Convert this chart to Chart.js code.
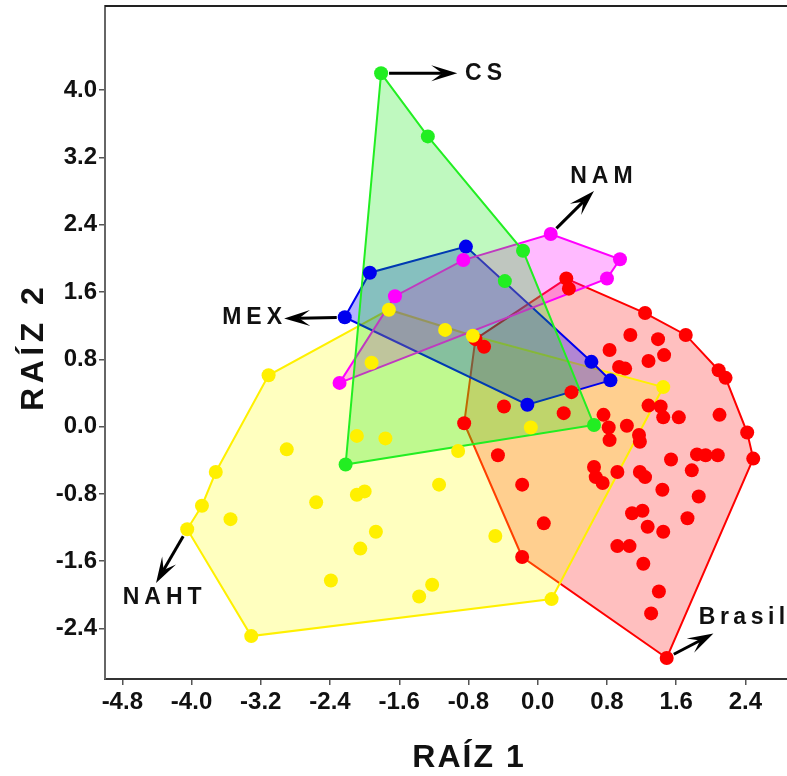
<!DOCTYPE html>
<html lang="es">
<head>
<meta charset="UTF-8">
<title>RAÍZ 1 / RAÍZ 2</title>
<script src="https://cdn.jsdelivr.net/npm/chart.js"></script>
<style>
  html, body { margin: 0; padding: 0; background: #fff; }
  #wrap { width: 787px; height: 776px; }
</style>
</head>
<body>
<div id="wrap"><canvas id="chart" width="787" height="776"></canvas></div>
<script>
const xTicks = [-4.8, -4.0, -3.2, -2.4, -1.6, -0.8, 0.0, 0.8, 1.6, 2.4];
const yTicks = [-2.4, -1.6, -0.8, 0.0, 0.8, 1.6, 2.4, 3.2, 4.0];

// hull vertices (in order) and the points inside, per group
const brasilHull = [[1.49,-2.75],[-0.18,-1.55],[-0.85,0.04],[-0.72,1.04],[0.33,1.76],[1.24,1.35],
  [1.71,1.09],[2.09,0.67],[2.17,0.58],[2.42,-0.07],[2.49,-0.38]];
const brasilInner = [[0.36,1.64],[1.07,1.09],[1.39,1.04],[0.83,0.91],[1.46,0.85],[1.28,0.78],[0.94,0.71],
  [1.01,0.69],[1.28,0.25],[1.42,0.24],[1.45,0.11],[1.63,0.11],[2.10,0.14],[0.76,0.14],[0.82,-0.01],
  [1.03,0.01],[1.17,-0.10],[1.18,-0.18],[0.83,-0.16],[1.54,-0.39],[1.84,-0.33],[1.94,-0.34],[2.08,-0.34],
  [1.78,-0.52],[0.65,-0.48],[0.67,-0.60],[0.75,-0.67],[0.92,-0.54],[1.18,-0.54],[1.24,-0.60],[1.44,-0.75],
  [1.86,-0.83],[1.09,-1.03],[1.21,-1.00],[1.73,-1.09],[-0.39,0.24],[0.30,0.16],[-0.46,-0.34],[-0.18,-0.69],
  [0.07,-1.15],[1.27,-1.19],[1.45,-1.25],[0.92,-1.42],[1.06,-1.42],[1.22,-1.63],[1.40,-1.96],[1.31,-2.22],
  [-0.62,0.95],[0.39,0.41]];

const nahtHull = [[-4.05,-1.22],[-3.88,-0.94],[-3.72,-0.54],[-3.11,0.61],[-1.72,1.39],[-0.75,1.08],
  [1.45,0.47],[0.16,-2.05],[-3.31,-2.49]];
const nahtInner = [[-1.07,1.15],[-1.92,0.76],[-2.09,-0.11],[-1.76,-0.14],[-2.90,-0.27],[-0.92,-0.29],
  [-0.08,-0.01],[-1.14,-0.69],[-2.56,-0.90],[-2.09,-0.81],[-2.00,-0.77],[-3.55,-1.10],[-1.87,-1.25],
  [-2.05,-1.45],[-2.39,-1.83],[-1.37,-2.02],[-1.22,-1.88],[-0.49,-1.30]];

const csHull = [[-1.81,4.20],[-1.27,3.45],[-0.17,2.09],[0.65,0.02],[-2.22,-0.45]];
const csInner = [[-0.38,1.73]];

const namHull = [[-2.29,0.52],[-1.65,1.55],[-0.86,1.98],[0.15,2.29],[0.95,1.99],[0.80,1.76]];
const namInner = [];

const mexHull = [[-2.23,1.30],[-1.94,1.83],[-0.83,2.14],[0.62,0.77],[0.84,0.55],[-0.12,0.26]];
const mexInner = [];

// group labels: arrow from a point to a tip, text next to it
const labels = [
  { text: 'CS',     from: [-1.81, 4.20], to: [-0.93, 4.20], at: [-0.84, 4.20], align: 'left' },
  { text: 'NAM',    from: [0.15, 2.29],  to: [0.65, 2.80],  at: [0.735, 2.975], align: 'center' },
  { text: 'MEX',    from: [-2.23, 1.30], to: [-2.93, 1.285], at: [-3.30, 1.29], align: 'center' },
  { text: 'NAHT',   from: [-4.05, -1.22], to: [-4.41, -1.86], at: [-4.34, -2.03], align: 'center' },
  { text: 'Brasil', from: [1.49, -2.75], to: [2.03, -2.46], at: [2.36, -2.27], align: 'center' }
];

const toXY = arr => arr.map(p => ({ x: p[0], y: p[1] }));

const groups = [
  // drawn bottom to top
  { name: 'Brasil', hull: brasilHull, inner: brasilInner, color: '#ff0000', fill: 'rgba(255,0,0,0.25)' },
  { name: 'NAHT',   hull: nahtHull,   inner: nahtInner,   color: '#fff000', fill: 'rgba(255,255,0,0.25)' },
  { name: 'MEX',    hull: mexHull,    inner: mexInner,    color: '#0000ee', fill: 'rgba(0,0,255,0.3)' },
  { name: 'NAM',    hull: namHull,    inner: namInner,    color: '#ff00ff', fill: 'rgba(255,0,255,0.27)' },
  { name: 'CS',     hull: csHull,     inner: csInner,     color: '#22ee22', fill: 'rgba(0,230,0,0.25)' }
];

const datasets = [];
groups.forEach((g, i) => {
  datasets.push({
    label: g.name + ' hull',
    data: toXY(g.hull.concat([g.hull[0]])),
    showLine: true,
    fill: 'shape',
    backgroundColor: g.fill,
    borderColor: g.color,
    borderWidth: 2,
    pointRadius: 0,
    tension: 0,
    order: 100 - i
  });
});
groups.forEach((g, i) => {
  datasets.push({
    label: g.name,
    data: toXY(g.hull.concat(g.inner)),
    showLine: false,
    backgroundColor: g.color,
    borderWidth: 0,
    pointRadius: 7,
    order: 50 - i
  });
});

const FONT = '"Liberation Sans", Arial, sans-serif';

function drawArrow(ctx, x0, y0, x1, y1) {
  const ang = Math.atan2(y1 - y0, x1 - x0);
  const len = Math.hypot(x1 - x0, y1 - y0) - 8;
  const head = 26, half = 8, notch = 15;
  ctx.save();
  ctx.translate(x1, y1);
  ctx.rotate(ang);
  ctx.strokeStyle = '#000';
  ctx.fillStyle = '#000';
  ctx.lineWidth = 3;
  ctx.beginPath();
  ctx.moveTo(-len, 0);
  ctx.lineTo(-notch, 0);
  ctx.stroke();
  ctx.beginPath();
  ctx.moveTo(0, 0);
  ctx.lineTo(-head, -half);
  ctx.lineTo(-notch, 0);
  ctx.lineTo(-head, half);
  ctx.closePath();
  ctx.fill();
  ctx.restore();
}

function spacedText(ctx, text, cx, cy, spacing) {
  ctx.letterSpacing = spacing + 'px';
  const w = ctx.measureText(text).width - spacing;
  ctx.fillText(text, cx - w / 2, cy);
}

const decor = {
  id: 'decor',
  afterDraw(chart) {
    const { ctx, chartArea, scales } = chart;
    const x = scales.x, y = scales.y;
    ctx.save();
    // top frame line
    ctx.strokeStyle = '#222';
    ctx.lineWidth = 2;
    ctx.beginPath();
    ctx.moveTo(chartArea.left, chartArea.top);
    ctx.lineTo(chartArea.right, chartArea.top);
    ctx.stroke();

    // group labels with arrows
    labels.forEach(l => {
      drawArrow(ctx, x.getPixelForValue(l.from[0]), y.getPixelForValue(l.from[1]),
        x.getPixelForValue(l.to[0]), y.getPixelForValue(l.to[1]));
      ctx.font = 'bold 23px ' + FONT;
      ctx.fillStyle = '#111';
      ctx.textBaseline = 'middle';
      ctx.textAlign = 'left';
      const sp = l.text === 'Brasil' ? 4.5 : 5;
      ctx.letterSpacing = sp + 'px';
      const w = ctx.measureText(l.text).width - sp;
      let px = x.getPixelForValue(l.at[0]);
      if (l.align === 'center') px -= w / 2;
      ctx.fillText(l.text, px, y.getPixelForValue(l.at[1]));
    });

    // axis titles
    ctx.font = 'bold 32px ' + FONT;
    ctx.fillStyle = '#111';
    ctx.textBaseline = 'middle';
    ctx.textAlign = 'left';
    spacedText(ctx, 'RAÍZ 1', 468, 758, 2);
    ctx.translate(34, 349);
    ctx.rotate(-Math.PI / 2);
    spacedText(ctx, 'RAÍZ 2', 0, 0, 4.5);
    ctx.restore();
  }
};

new Chart(document.getElementById('chart'), {
  type: 'scatter',
  data: { datasets },
  options: {
    responsive: false,
    animation: false,
    layout: { autoPadding: false, padding: { top: 6, right: 0, left: 0, bottom: 0 } },
    plugins: {
      legend: { display: false },
      tooltip: { enabled: false }
    },
    scales: {
      x: {
        min: -5.0,
        max: 2.88,
        afterBuildTicks: s => { s.ticks = xTicks.map(v => ({ value: v })); },
        afterFit: s => { s.height = 97; s.paddingLeft = 0; s.paddingRight = 0; },
        grid: { display: true, drawOnChartArea: false, drawTicks: true, tickLength: 6, tickColor: '#555', lineWidth: 1.5 },
        border: { display: true, color: '#333', width: 2 },
        ticks: {
          autoSkip: false,
          maxRotation: 0,
          padding: 3,
          color: '#111',
          font: { family: FONT, size: 24, weight: 'bold' },
          callback: v => v.toFixed(1)
        }
      },
      y: {
        min: -3.0,
        max: 5.0,
        afterBuildTicks: s => { s.ticks = yTicks.map(v => ({ value: v })); },
        afterFit: s => { s.width = 105; s.paddingTop = 0; s.paddingBottom = 0; },
        grid: { display: true, drawOnChartArea: false, drawTicks: true, tickLength: 6, tickColor: '#555', lineWidth: 1.5 },
        border: { display: true, color: '#666', width: 2 },
        ticks: {
          autoSkip: false,
          padding: 2,
          color: '#111',
          font: { family: FONT, size: 24, weight: 'bold' },
          callback: v => v.toFixed(1)
        }
      }
    }
  },
  plugins: [decor]
});
</script>
</body>
</html>
